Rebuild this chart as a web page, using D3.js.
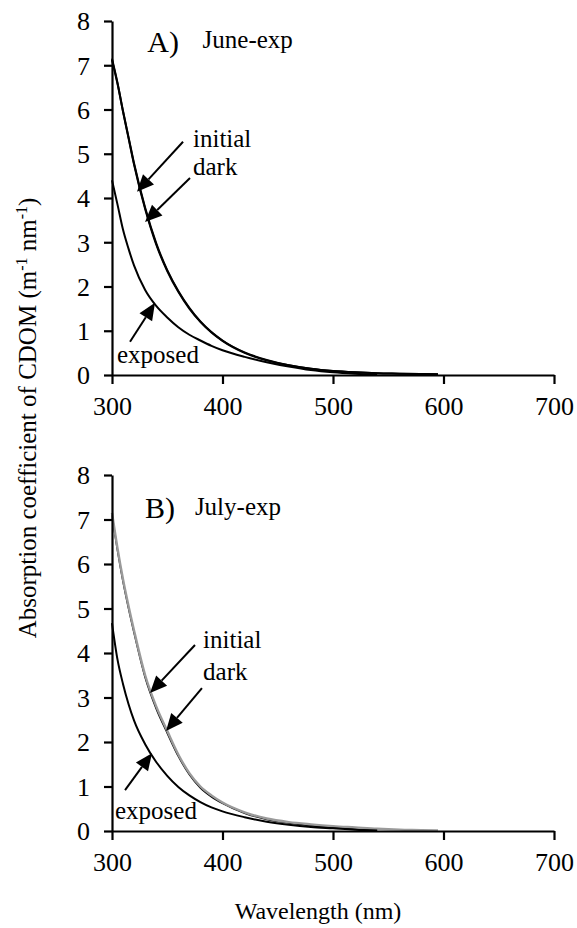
<!DOCTYPE html>
<html>
<head>
<meta charset="utf-8">
<script src="https://cdn.jsdelivr.net/npm/d3@7"></script>
<style>
body { margin: 0; background: #fff; }
</style>
</head>
<body>
<svg id="chart" width="577" height="928"></svg>
<script>
// wavelengths (nm) and absorption values
var wlLong = [300, 305, 310, 315, 320, 330, 340, 350, 360, 370, 380, 390, 400, 420, 440, 460, 480, 500, 520, 540, 560, 580, 595];
var wlShort = [300, 305, 310, 315, 320, 330, 340, 350, 360, 370, 380, 390, 400, 420, 440, 460, 480, 500, 520, 540];

// June-exp
var juneInitial = [7.15, 6.6, 5.95, 5.35, 4.75, 3.75, 2.95, 2.35, 1.88, 1.5, 1.2, 0.96, 0.77, 0.5, 0.33, 0.22, 0.14, 0.09, 0.06, 0.04, 0.03, 0.02, 0.015];
var juneDark = [7.12, 6.58, 5.96, 5.37, 4.78, 3.78, 2.98, 2.37, 1.9, 1.52, 1.21, 0.97, 0.78, 0.51, 0.34, 0.22, 0.14, 0.09, 0.06, 0.04, 0.03, 0.02, 0.015];
var juneExposed = [4.4, 3.85, 3.28, 2.85, 2.47, 1.92, 1.56, 1.3, 1.08, 0.91, 0.78, 0.66, 0.56, 0.41, 0.29, 0.19, 0.11, 0.06, 0.03, 0.01];

// July-exp
var julyInitial = [7.1, 6.3, 5.6, 5.0, 4.45, 3.45, 2.75, 2.2, 1.68, 1.27, 0.97, 0.77, 0.62, 0.4, 0.26, 0.18, 0.12, 0.08, 0.05, 0.03];
var julyDark = [7.15, 6.35, 5.65, 5.05, 4.5, 3.5, 2.8, 2.25, 1.72, 1.3, 1.0, 0.8, 0.64, 0.42, 0.28, 0.2, 0.15, 0.11, 0.08, 0.05, 0.03, 0.02, 0.01];
var julyExposed = [4.67, 3.85, 3.3, 2.85, 2.48, 1.95, 1.55, 1.24, 0.99, 0.8, 0.65, 0.53, 0.44, 0.31, 0.21, 0.14, 0.09, 0.06, 0.03, 0.01];

var xTicks = [300, 400, 500, 600, 700];
var yTicks = [0, 1, 2, 3, 4, 5, 6, 7, 8];

var FONT = "'Liberation Serif', 'Times New Roman', Times, serif";

var svg = d3.select("#chart").style("font-family", FONT);

var x = d3.scaleLinear().domain([300, 700]).range([112, 554]);

function zip(xs, ys) {
    return xs.map(function(d, i) { return [d, ys[i]]; });
}

var panels = [
    {top: 21, bottom: 375, letter: "A)", name: "June-exp",
     letterPos: [332, 7.3], namePos: [382, 7.39],
     series: [
        {wl: wlLong, v: juneInitial, color: "#000", width: 2},
        {wl: wlLong, v: juneDark, color: "#000", width: 2},
        {wl: wlShort, v: juneExposed, color: "#000", width: 2}
     ],
     arrows: [[[364.3, 5.27], [322.6, 4.14]], [[370.6, 4.45], [329.9, 3.46]], [[316.3, 0.75], [338.9, 1.63]]],
     labels: [["initial", 373.3, 5.15], ["dark", 373.3, 4.52], ["exposed", 304.5, 0.27]]},
    {top: 475, bottom: 831, letter: "B)", name: "July-exp",
     letterPos: [329.9, 7.03], namePos: [375, 7.1],
     series: [
        {wl: wlShort, v: julyInitial, color: "#000", width: 1.6},
        {wl: wlLong, v: julyDark, color: "#9a9a9a", width: 2.4},
        {wl: wlShort, v: julyExposed, color: "#000", width: 2}
     ],
     arrows: [[[375.1, 4.18], [334.4, 3.10]], [[381.4, 3.21], [348.9, 2.25]], [[311.8, 0.92], [336.2, 1.75]]],
     labels: [["initial", 382.4, 4.11], ["dark", 382.4, 3.39], ["exposed", 302.7, 0.27]]}
];

panels.forEach(function(p) {
    var y = d3.scaleLinear().domain([0, 8]).range([p.bottom, p.top]);
    var g = svg.append("g");

    var line = d3.line()
        .x(function(d) { return x(d[0]); })
        .y(function(d) { return y(d[1]); })
        .curve(d3.curveMonotoneX);

    p.series.forEach(function(s) {
        g.append("path")
            .attr("d", line(zip(s.wl, s.v)))
            .attr("fill", "none")
            .attr("stroke", s.color)
            .attr("stroke-width", s.width);
    });

    // axes
    var xa = g.append("g")
        .attr("transform", "translate(0," + p.bottom + ")")
        .call(d3.axisBottom(x).tickValues(xTicks).tickSize(9).tickSizeOuter(0).tickPadding(12));
    var ya = g.append("g")
        .attr("transform", "translate(" + x(300) + ",0)")
        .call(d3.axisLeft(y).tickValues(yTicks).tickSize(8).tickSizeOuter(0).tickPadding(14));
    [xa, ya].forEach(function(a) {
        a.attr("font-family", FONT);
        a.select(".domain").attr("stroke-width", 2.2);
        a.selectAll(".tick line").attr("stroke-width", 2.2);
        a.selectAll("text").style("font-family", FONT).style("font-size", "26px").attr("fill", "#000");
    });
    ya.selectAll("text").attr("dy", "0.34em");
    xa.selectAll("text").attr("dy", "0.72em");

    // arrows
    p.arrows.forEach(function(a) {
        var x0 = x(a[0][0]), y0 = y(a[0][1]), x1 = x(a[1][0]), y1 = y(a[1][1]);
        var ang = Math.atan2(y1 - y0, x1 - x0);
        var hl = 17, hw = 7.5;
        var bx = x1 - hl * Math.cos(ang), by = y1 - hl * Math.sin(ang);
        g.append("line")
            .attr("x1", x0).attr("y1", y0).attr("x2", bx).attr("y2", by)
            .attr("stroke", "#000").attr("stroke-width", 2);
        g.append("path")
            .attr("d", "M" + x1 + "," + y1 +
                "L" + (bx + hw * Math.sin(ang)) + "," + (by - hw * Math.cos(ang)) +
                "L" + (bx - hw * Math.sin(ang)) + "," + (by + hw * Math.cos(ang)) + "Z")
            .attr("fill", "#000");
    });

    p.labels.forEach(function(l) {
        g.append("text")
            .attr("x", x(l[1])).attr("y", y(l[2]))
            .style("font-family", FONT)
            .style("font-size", "25px")
            .text(l[0]);
    });

    g.append("text")
        .attr("x", x(p.letterPos[0])).attr("y", y(p.letterPos[1]))
        .style("font-family", FONT)
        .style("font-size", "30px")
        .text(p.letter);
    g.append("text")
        .attr("x", x(p.namePos[0])).attr("y", y(p.namePos[1]))
        .style("font-family", FONT)
        .style("font-size", "25px")
        .text(p.name);
});

// axis titles
svg.append("text")
    .attr("x", 318).attr("y", 919)
    .attr("text-anchor", "middle")
    .style("font-family", FONT)
    .style("font-size", "24px")
    .text("Wavelength (nm)");

var yt = svg.append("text")
    .attr("transform", "translate(36,418) rotate(-90)")
    .attr("text-anchor", "middle")
    .style("font-family", FONT)
    .style("font-size", "25px");
yt.append("tspan").text("Absorption coefficient of CDOM (m");
yt.append("tspan").attr("dy", -9).style("font-size", "16px").text("-1");
yt.append("tspan").attr("dy", 9).text(" nm");
yt.append("tspan").attr("dy", -9).style("font-size", "16px").text("-1");
yt.append("tspan").attr("dy", 9).text(")");
</script>
</body>
</html>
